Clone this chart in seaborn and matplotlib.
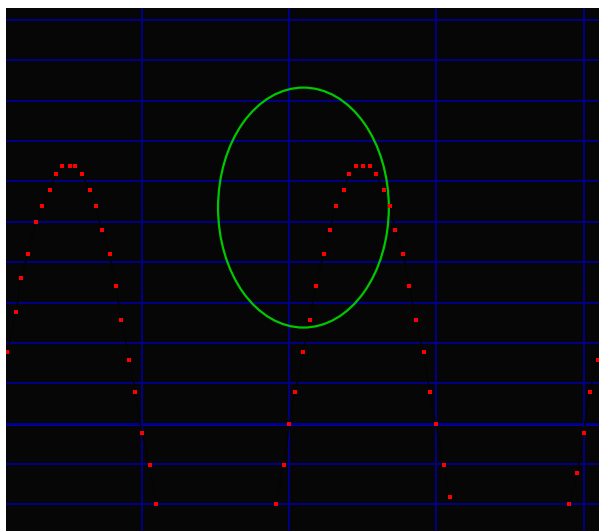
import numpy as np
import pandas as pd
import matplotlib
matplotlib.use("Agg")
import matplotlib.pyplot as plt
import seaborn as sns
from matplotlib.patches import Ellipse
from matplotlib.ticker import MultipleLocator

# puntos de la curva (x en radianes)
x_izq = [-6.00, -5.82, -5.70, -5.57, -5.40, -5.27, -5.10, -4.97, -4.84, -4.67, -4.55, -4.42,
         -4.25, -4.12, -3.99, -3.82, -3.69, -3.57, -3.40, -3.27, -3.14, -2.97, -2.84]
y_izq = [1.77, 2.76, 3.60, 4.19, 4.99, 5.39, 5.78, 6.18, 6.38, 6.38, 6.38, 6.18,
         5.78, 5.39, 4.79, 4.19, 3.40, 2.56, 1.57, 0.78, -0.22, -1.01, -2.00]

x_centro = [-0.28, -0.11, 0.01, 0.14, 0.31, 0.44, 0.57, 0.74, 0.87, 1.00, 1.17, 1.29, 1.42,
            1.59, 1.72, 1.85, 2.02, 2.16, 2.27, 2.44, 2.57, 2.70, 2.87, 3.00, 3.13, 3.30, 3.43]
y_centro = [-2.00, -1.01, -0.01, 0.78, 1.77, 2.56, 3.40, 4.19, 4.79, 5.39, 5.78, 6.18, 6.38,
            6.38, 6.38, 6.18, 5.78, 5.39, 4.79, 4.19, 3.40, 2.56, 1.77, 0.78, -0.01, -1.01, -1.81]

x_der = [5.98, 6.15, 6.28, 6.41, 6.58]
y_der = [-1.99, -1.21, -0.22, 0.78, 1.57]

# elipse verde
elipse_centro = (0.31, 5.35)
elipse_ancho = 3.64
elipse_alto = 5.94

df = pd.concat([
    pd.DataFrame({"x": x_izq, "y": y_izq, "tramo": "izq"}),
    pd.DataFrame({"x": x_centro, "y": y_centro, "tramo": "centro"}),
    pd.DataFrame({"x": x_der, "y": y_der, "tramo": "der"}),
], ignore_index=True)

sns.set_style("dark")
fig = plt.figure(figsize=(5.99, 5.31), dpi=100)
fig.patch.set_facecolor("white")
ax = fig.add_axes([6 / 599, 0, 593 / 599, 523 / 531])
ax.set_facecolor("#060606")

ax.set_xlim(-6.03, 6.61)
ax.set_ylim(-2.656, 10.29)

# rejilla
ax.xaxis.set_major_locator(MultipleLocator(np.pi))
ax.yaxis.set_major_locator(MultipleLocator(1))
ax.grid(True, color="#000080", linewidth=1.5, zorder=0)
ax.set_axisbelow(True)
ax.axhline(0, color="#0000c8", linewidth=2.0, zorder=0.5)

sns.lineplot(data=df, x="x", y="y", units="tramo", estimator=None, sort=False,
             color="#040404", linewidth=1.1, ax=ax, zorder=2)

ax.add_patch(Ellipse(elipse_centro, elipse_ancho, elipse_alto, fill=False,
                     edgecolor="#00c800", linewidth=1.6, zorder=3))

sns.scatterplot(data=df, x="x", y="y", marker="s", s=12, color="#ff0000",
                linewidth=0, ax=ax, zorder=4)

ax.set_xlabel("")
ax.set_ylabel("")
ax.tick_params(left=False, bottom=False, labelleft=False, labelbottom=False)
for s in ax.spines.values():
    s.set_visible(False)

plt.savefig("out.png", dpi=100, facecolor="white")
